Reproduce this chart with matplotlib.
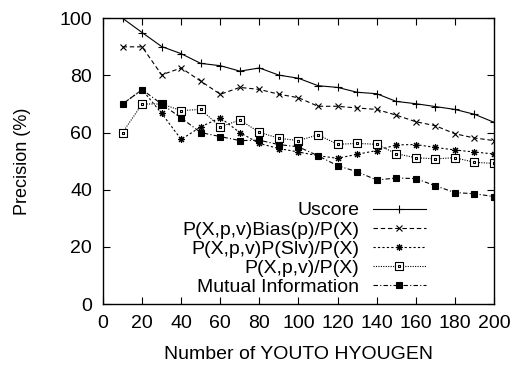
#!/usr/bin/env python3
"""Precision vs number of YOUTO HYOUGEN for several scoring methods."""

import matplotlib
matplotlib.use("Agg")
import matplotlib.pyplot as plt
from matplotlib.path import Path

plt.rcParams["font.family"] = ["Liberation Sans", "DejaVu Sans"]
plt.rcParams["font.size"] = 14

counts = [10, 20, 30, 40, 50, 60, 70, 80, 90, 100,
          110, 120, 130, 140, 150, 160, 170, 180, 190, 200]

uscore = [100.0, 95.0, 90.1, 87.6, 84.2, 83.4, 81.5, 82.6, 80.1, 79.0,
          76.4, 75.8, 74.1, 73.6, 70.9, 70.1, 69.1, 68.1, 66.4, 63.6]
bias = [90.0, 90.0, 80.2, 82.6, 78.0, 73.4, 75.8, 75.1, 73.4, 72.2,
        69.2, 69.2, 68.6, 68.1, 66.1, 63.8, 62.4, 59.6, 58.1, 57.2]
slv = [70.0, 75.0, 66.7, 57.6, 62.0, 65.2, 60.0, 56.2, 54.4, 53.2,
       51.9, 51.0, 52.4, 53.7, 55.7, 55.8, 54.8, 53.9, 53.2, 52.5]
pxpv = [60.0, 70.0, 70.0, 67.7, 68.1, 62.0, 64.4, 60.1, 58.0, 57.2,
        59.2, 55.9, 56.2, 55.9, 52.6, 51.2, 50.8, 51.2, 49.6, 49.2]
mutual = [70.0, 75.0, 70.0, 65.1, 60.0, 58.6, 57.2, 57.3, 55.8, 55.0,
          51.9, 48.4, 46.3, 43.4, 44.1, 43.9, 41.4, 39.0, 38.6, 37.6]

labels = ["Uscore", "P(X,p,v)Bias(p)/P(X)", "P(X,p,v)P(Slv)/P(X)",
          "P(X,p,v)/P(X)", "Mutual Information"]

# open box with a small dot in the middle (gnuplot style)
boxdot = Path(
    [(-1, -1), (1, -1), (1, 1), (-1, 1), (-1, -1),
     (-0.15, -0.15), (0.15, -0.15), (0.15, 0.15), (-0.15, 0.15), (-0.15, -0.15)],
    [Path.MOVETO, Path.LINETO, Path.LINETO, Path.LINETO, Path.CLOSEPOLY,
     Path.MOVETO, Path.LINETO, Path.LINETO, Path.LINETO, Path.CLOSEPOLY],
)

fig = plt.figure(figsize=(5.14, 3.65), dpi=100)
ax = fig.add_axes([0.2004, 0.167, 0.7606, 0.783])

lw = 0.8
ax.plot(counts, uscore, color="black", lw=lw, ls="-", marker="+",
        ms=6, mew=0.8, label=labels[0])
ax.plot(counts, bias, color="black", lw=lw, ls=(0, (4, 2.5)), marker="x",
        ms=5, mew=0.8, label=labels[1])
ax.plot(counts, slv, color="black", lw=lw, ls=(0, (2, 2)), marker=(8, 2, 0),
        ms=5, mew=0.8, label=labels[2])
ax.plot(counts, pxpv, color="black", lw=lw, ls=(0, (1, 1.2)), marker=boxdot,
        ms=5.5, mew=0.8, mfc="white", label=labels[3])
ax.plot(counts, mutual, color="black", lw=lw, ls=(0, (4, 2, 1, 2)), marker="s",
        ms=5, mew=0.8, mfc="black", label=labels[4])

ax.set_xlim(0, 200)
ax.set_ylim(0, 100)
ax.set_xticks(range(0, 201, 20))
ax.set_yticks(range(0, 101, 20))
ax.tick_params(direction="in", length=5, width=0.8, top=True, right=True,
               labelsize=14, pad=8)
for s in ax.spines.values():
    s.set_linewidth(1.0)

ax.set_xlabel("Number of YOUTO HYOUGEN", fontsize=14, labelpad=10)
ax.set_ylabel("Precision (%)", fontsize=13, labelpad=20)

ax.legend(loc="lower right", bbox_to_anchor=(0.86, -0.02), frameon=False,
          markerfirst=False, handlelength=2.7, handletextpad=0.72,
          labelspacing=0.08, borderpad=0.2, fontsize=14)

fig.savefig("out.png", dpi=100)
